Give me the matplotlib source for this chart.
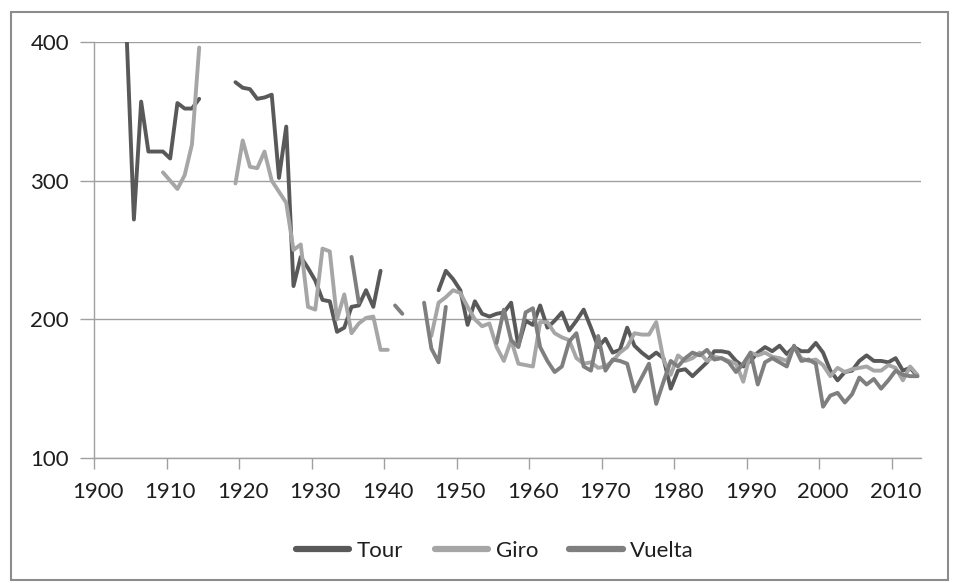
import numpy as np
import matplotlib as mpl
import matplotlib.pyplot as plt
from matplotlib.patches import Rectangle
from matplotlib.ticker import FixedLocator

# average stage length (km) per edition, None = race not held
years = np.arange(1903, 2014)

tour = [405, 405, 272, 357, 321, 321, 321, 316, 356, 352, 352, 359,
        None, None, None, None,
        371, 367, 366, 359, 360, 362, 302, 339, 224, 245, 237, 228,
        214, 213, 191, 194, 209, 210, 221, 209, 235,
        None, None, None, None, None, None, None,
        221, 235, 229, 221, 196, 213, 204, 202, 204, 205, 212, 181,
        199, 196, 210, 194, 199, 205, 192, 199, 207, 194, 180, 186,
        176, 178, 194, 181, 176, 172, 176, 172, 150, 163, 164, 159,
        164, 169, 177, 177, 176, 170, 166, 170, 176, 180, 177, 181,
        175, 180, 177, 177, 183, 176, 163, 156, 162, 163, 170, 174,
        170, 170, 169, 172, 163, 165, 159]

giro = [None, None, None, None, None, None,
        306, 300, 294, 304, 326, 396,
        None, None, None, None,
        298, 329, 310, 309, 321, 300, 292, 284, 250, 254, 209, 207,
        251, 249, 200, 218, 190, 197, 201, 202, 178, 178,
        None, None, None, None, None,
        188, 212, 216, 221, 219, 209, 200, 195, 197, 180, 170, 185,
        168, 167, 166, 198, 198, 190, 187, 185, 172, 168, 169, 165,
        166, 170, 176, 180, 190, 189, 189, 198, 171, 160, 174, 170,
        172, 176, 170, 173, 172, 170, 168, 155, 176, 174, 176, 173,
        172, 170, 180, 172, 170, 171, 167, 159, 165, 162, 164, 165,
        166, 163, 163, 167, 165, 156, 166, 160]

vuelta = [None] * 32 + [
        245, 212,
        None, None, None, None,
        210, 204,
        None, None,
        212, 179, 169, 209,
        None, None, None, None, None, None,
        183, 207, 185, 180, 205, 208, 180, 170, 162, 166, 184, 190,
        166, 163, 188, 163, 171, 170, 168, 148, 158, 168, 139, 155,
        170, 166, 172, 176, 174, 178, 171, 172, 169, 162, 168, 176,
        153, 169, 172, 169, 166, 181, 170, 171, 168, 137, 145, 147,
        140, 146, 158, 153, 157, 150, 156, 163, 160, 159, 159]

series = [("Tour", tour, "#595959"),
          ("Giro", giro, "#a6a6a6"),
          ("Vuelta", vuelta, "#7f7f7f")]

plt.rcParams['font.family'] = ['Lato', 'DejaVu Sans']
W, H = 960, 583
fig = plt.figure(figsize=(W / 100, H / 100), dpi=100)
ax = fig.add_axes([94 / W, 1 - 458 / H, (921 - 94) / W, (458 - 42) / H])

for name, vals, col in series:
    ax.plot(years, np.array(vals, dtype=float), color=col, lw=2.8,
            label=name, solid_capstyle='round', solid_joinstyle='round')

ax.set_xlim(1899.5, 2013.5)
ax.set_ylim(100, 400)
ax.set_yticks([100, 200, 300, 400])
ax.yaxis.grid(True, color='#a0a0a0', lw=1.0)
ax.set_axisbelow(True)

# labels centred on categories, tick marks on the category boundaries
ax.set_xticks(np.arange(1900, 2011, 10))
ax.xaxis.set_minor_locator(FixedLocator(np.arange(1899.5, 2013, 10)))
ax.tick_params(axis='x', which='major', length=0, pad=17, labelsize=16,
               labelcolor='#1e1e1e')
ax.tick_params(axis='x', which='minor', length=8, width=1, color='#a0a0a0')
ax.tick_params(axis='y', length=10, width=1, color='#a0a0a0', pad=8,
               labelsize=16, labelcolor='#1e1e1e')

for s in ['top', 'right']:
    ax.spines[s].set_visible(False)
for s in ['left', 'bottom']:
    ax.spines[s].set_color('#a0a0a0')
    ax.spines[s].set_linewidth(1.0)

leg = ax.legend(loc='center', bbox_to_anchor=(495 / W, 1 - 551 / H),
                bbox_transform=fig.transFigure, ncol=3, frameon=False,
                fontsize=16, handlelength=2.4, handletextpad=0.35,
                columnspacing=1.4)
for t in leg.get_texts():
    t.set_color('#1e1e1e')
for line in leg.get_lines():
    line.set_linewidth(4.5)

# outer chart border
fig.patches.append(Rectangle((11 / W, 1 - 580 / H), (948 - 11) / W,
                             (580 - 12) / H, transform=fig.transFigure,
                             fill=False, edgecolor='#8c8c8c', lw=1.5))

fig.savefig('out.png', dpi=100)
